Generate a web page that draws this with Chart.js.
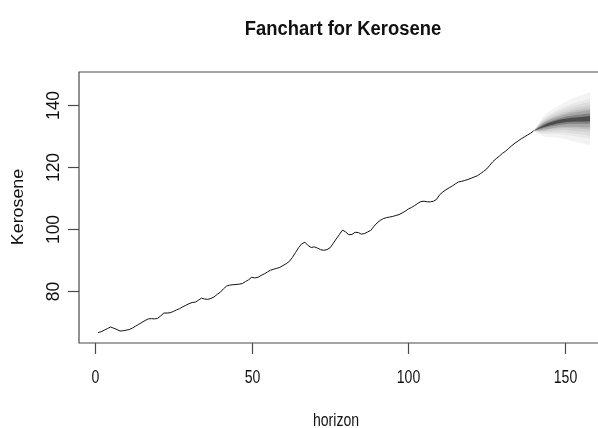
<!DOCTYPE html>
<html>
<head>
<meta charset="utf-8">
<title>Fanchart for Kerosene</title>
<script src="https://cdn.jsdelivr.net/npm/chart.js@4/dist/chart.umd.min.js"></script>
<style>
  html, body { margin: 0; padding: 0; background: #ffffff; overflow: hidden; }
  canvas { display: block; }
</style>
</head>
<body>
<canvas id="fanChart" width="598" height="428"></canvas>
<script>
var kerosene = [
  66.6, 66.9, 67.4, 67.9, 68.4, 68.0, 67.6, 67.1, 67.2, 67.4,
  67.6, 68.1, 68.7, 69.3, 69.9, 70.5, 71.0, 71.1, 71.0, 71.2,
  72.0, 72.9, 72.9, 73.0, 73.4, 73.9, 74.3, 74.9, 75.4, 75.9,
  76.3, 76.4, 77.0, 77.7, 77.4, 77.3, 77.6, 78.1, 78.9, 79.6,
  80.7, 81.6, 81.9, 82.0, 82.1, 82.2, 82.4, 83.0, 83.6, 84.4,
  84.2, 84.4, 85.0, 85.5, 86.1, 86.7, 87.0, 87.3, 87.6, 88.2,
  88.8, 89.5, 90.8, 92.4, 94.0, 95.2, 95.7, 94.6, 94.0, 94.2,
  93.8, 93.3, 93.1, 93.3, 93.9, 95.3, 96.8, 98.2, 99.6, 99.0,
  98.1, 98.2, 98.9, 98.8, 98.3, 98.5, 99.0, 99.5, 100.8, 101.9,
  102.7, 103.3, 103.6, 103.8, 104.0, 104.3, 104.6, 105.1, 105.7, 106.4,
  106.9, 107.5, 108.2, 108.8, 108.9, 108.7, 108.7, 108.9, 109.5, 111.0,
  111.9, 112.6, 113.2, 113.8, 114.5, 115.1, 115.3, 115.6, 115.9, 116.3,
  116.7, 117.1, 117.8, 118.5, 119.3, 120.5, 121.7, 122.6, 123.4, 124.3,
  125.0, 125.9, 126.8, 127.6, 128.3, 129.0, 129.6, 130.2, 130.8, 131.6
];

// Forecast fan: horizon steps, median and half widths per band (outer band first)
var fanX = [140, 143, 146, 149, 152, 155, 158];
var fanMedian = [131.6, 133.0, 134.0, 134.7, 135.1, 135.3, 135.5];
var fanHalfWidths = [
  [0, 3.2, 4.5, 5.6, 6.7, 7.7, 8.6],
  [0, 2.4, 3.4, 4.3, 5.1, 5.9, 6.5],
  [0, 2.0, 2.9, 3.6, 4.3, 4.9, 5.5],
  [0, 1.6, 2.3, 2.8, 3.4, 3.9, 4.3],
  [0, 1.3, 1.8, 2.2, 2.7, 3.1, 3.4],
  [0, 1.1, 1.5, 1.8, 2.2, 2.5, 2.8],
  [0, 0.6, 0.9, 1.1, 1.3, 1.5, 1.7],
  [0, 0.3, 0.45, 0.55, 0.65, 0.75, 0.85]
];
var fanColors = ["#f3f3f3", "#e9e9e9", "#dddddd", "#d0d0d0", "#bfbfbf", "#a7a7a7", "#828282", "#4c4c4c"];

// Axis ticks and labels
var xTicks = [0, 50, 100, 150];
var yTicks = [80, 100, 120, 140];
var titleText = "Fanchart for Kerosene";
var xLabel = "horizon";
var yLabel = "Kerosene";

// Build the datasets
var datasets = [];

var historyPoints = [];
for (var i = 0; i < kerosene.length; i++) {
  historyPoints.push({ x: i + 1, y: kerosene[i] });
}
datasets.push({
  data: historyPoints,
  borderColor: "#111111",
  borderWidth: 1,
  pointRadius: 0,
  fill: false,
  order: 0
});

for (var b = 0; b < fanHalfWidths.length; b++) {
  var upper = [];
  var lower = [];
  for (var j = 0; j < fanX.length; j++) {
    upper.push({ x: fanX[j], y: fanMedian[j] + fanHalfWidths[b][j] });
    lower.push({ x: fanX[j], y: fanMedian[j] - fanHalfWidths[b][j] });
  }
  // upper edge fills down to the lower edge pushed right after it
  datasets.push({
    data: upper,
    borderWidth: 0,
    borderColor: fanColors[b],
    backgroundColor: fanColors[b],
    pointRadius: 0,
    cubicInterpolationMode: "monotone",
    fill: "+1",
    order: 20 - b
  });
  datasets.push({
    data: lower,
    borderWidth: 0,
    borderColor: fanColors[b],
    pointRadius: 0,
    cubicInterpolationMode: "monotone",
    fill: false,
    order: 20 - b
  });
}

// Text drawn by hand so it can look like the R base graphics
function drawText(ctx, text, x, y, font, scaleX, rotate, align) {
  ctx.save();
  ctx.translate(x, y);
  if (rotate) ctx.rotate(-Math.PI / 2);
  ctx.scale(scaleX, 1);
  ctx.font = font;
  ctx.fillStyle = "#111111";
  ctx.textAlign = align || "center";
  ctx.textBaseline = "alphabetic";
  ctx.fillText(text, 0, 0);
  ctx.restore();
}

var baseAxes = {
  id: "baseAxes",
  afterDraw: function (chart) {
    var ctx = chart.ctx;
    var area = chart.chartArea;
    var xs = chart.scales.x;
    var ys = chart.scales.y;

    ctx.save();
    ctx.strokeStyle = "#4a4a4a";
    ctx.lineWidth = 1.2;

    // box (right side falls outside the picture)
    ctx.beginPath();
    ctx.moveTo(area.right + 5, area.top);
    ctx.lineTo(area.left, area.top);
    ctx.lineTo(area.left, area.bottom);
    ctx.lineTo(area.right + 5, area.bottom);
    ctx.stroke();

    // x ticks
    for (var i = 0; i < xTicks.length; i++) {
      var px = Math.round(xs.getPixelForValue(xTicks[i])) + 0.5;
      ctx.beginPath();
      ctx.moveTo(px, area.bottom);
      ctx.lineTo(px, area.bottom + 11);
      ctx.stroke();
      drawText(ctx, String(xTicks[i]), px, 383, "19px 'Liberation Sans', Arial, sans-serif", 0.74, false);
    }

    // y ticks
    for (var k = 0; k < yTicks.length; k++) {
      var py = Math.round(ys.getPixelForValue(yTicks[k])) + 0.5;
      ctx.beginPath();
      ctx.moveTo(area.left, py);
      ctx.lineTo(area.left - 11, py);
      ctx.stroke();
      drawText(ctx, String(yTicks[k]), 59, py, "17.5px 'Liberation Sans', Arial, sans-serif", 1, true);
    }
    ctx.restore();

    // titles
    drawText(ctx, titleText, 343, 35, "bold 20px 'Liberation Sans', Arial, sans-serif", 0.92, false);
    drawText(ctx, xLabel, 336, 426, "18px 'Liberation Sans', Arial, sans-serif", 0.78, false);
    drawText(ctx, yLabel, 23, 207, "17px 'Liberation Sans', Arial, sans-serif", 1.05, true);
  }
};

var fanChart = new Chart(document.getElementById("fanChart"), {
  type: "line",
  data: { datasets: datasets },
  options: {
    responsive: false,
    animation: false,
    layout: { padding: { left: 79, top: 72, right: 0, bottom: 85 } },
    scales: {
      x: { type: "linear", min: -5.1, max: 160.5, display: false },
      y: { type: "linear", min: 63.25, max: 150.5, display: false }
    },
    plugins: {
      legend: { display: false },
      tooltip: { enabled: false },
      title: { display: false }
    }
  },
  plugins: [baseAxes]
});
</script>
</body>
</html>
